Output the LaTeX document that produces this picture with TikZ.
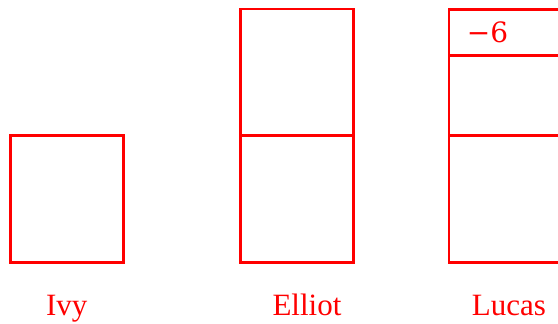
\documentclass[tikz,border=0pt]{standalone}
\usepackage{fontspec}
\setmainfont{Liberation Serif}
\newfontfamily\numfont{DejaVu Serif}
\begin{document}
\begin{tikzpicture}[x=1pt,y=-1pt,
  cell/.style={draw=red,line width=2.6pt,rectangle,inner sep=0pt,minimum width=113pt},
  lbl/.style={text=red,font=\fontsize{31}{31}\selectfont,anchor=base,inner sep=0pt}]
\useasboundingbox (0,0) rectangle (558,324);
\clip (0,0) rectangle (558,324);
% Ivy
\node[cell,minimum height=127pt] (ivy) at (66.8,198.7) {};
% Elliot
\node[cell,minimum height=126pt] (e1) at (297,72) {};
\node[cell,minimum height=127pt] (e2) at (297,198.7) {};
% Lucas
\node[cell,minimum width=126pt,minimum height=45.5pt] (l1) at (512,32.5) {};
\node[cell,minimum width=126pt,minimum height=80.5pt] (l2) at (512,95.5) {};
\node[cell,minimum width=126pt,minimum height=126.5pt] (l3) at (512,199) {};
\node[text=red,font=\numfont\fontsize{28}{28}\selectfont,inner sep=0pt] (m6) at (487.5,32) {−6};
% labels
\node[lbl] (nivy) at (66.8,315) {Ivy};
\node[lbl] (nell) at (307,315) {Elliot};
\node[lbl] (nluc) at (509,315) {Lucas};
\end{tikzpicture}
\end{document}
